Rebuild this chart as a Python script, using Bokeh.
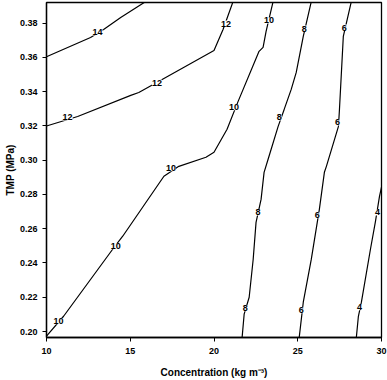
from bokeh.plotting import figure
from bokeh.models import ColumnDataSource, LabelSet, FixedTicker, Range1d, PrintfTickFormatter
from bokeh.core.properties import value
from bokeh.embed import file_html
from bokeh.resources import INLINE

# contour lines (Concentration kg m^-3, TMP MPa)
c14_x = [10.0, 12.63, 13.41, 14.43, 15.93]
c14_y = [0.3603, 0.3716, 0.3762, 0.3833, 0.3926]

c12_x = [10.0, 11.86, 15.03, 15.51, 17.01, 20.0, 20.54, 21.14]
c12_y = [0.3199, 0.3255, 0.3378, 0.3395, 0.3477, 0.3640, 0.3762, 0.3926]

c10_x = [10.0, 11.02, 13.95, 14.55, 17.01, 17.90, 19.52, 20.0, 20.78, 21.44, 22.69, 22.93, 23.11, 23.53]
c10_y = [0.1973, 0.2089, 0.2480, 0.2556, 0.2906, 0.2964, 0.3017, 0.3046, 0.3180, 0.3343, 0.3635, 0.3658, 0.3751, 0.3926]

c8_x = [25.81, 25.33, 24.91, 24.61, 24.19, 23.83, 23.23, 22.99, 22.81, 22.51, 22.34, 22.10, 21.80, 21.68]
c8_y = [0.3926, 0.3722, 0.3512, 0.3413, 0.3296, 0.3197, 0.3005, 0.2929, 0.2771, 0.2637, 0.2422, 0.2200, 0.2101, 0.1967]

c6_x = [28.20, 27.72, 27.49, 27.43, 26.71, 26.59, 26.29, 25.81, 25.33, 25.09]
c6_y = [0.3926, 0.3722, 0.3296, 0.3197, 0.2964, 0.2929, 0.2713, 0.2422, 0.2171, 0.1967]

c4_x = [30.0, 29.88, 29.64, 29.34, 28.80, 28.62, 28.50]
c4_y = [0.2842, 0.2789, 0.2643, 0.2480, 0.2171, 0.2089, 0.1967]

# contour labels
lab_text = ["14", "12", "12", "12", "10", "10", "10", "10", "10",
            "8", "8", "8", "8", "6", "6", "6", "6", "4", "4"]
lab_x = [13.05, 11.26, 16.59, 20.72, 10.72, 14.13, 17.43, 21.20, 23.29,
         25.39, 23.89, 22.63, 21.86, 27.78, 27.37, 26.17, 25.21, 29.76, 28.68]
lab_y = [0.3745, 0.3249, 0.3453, 0.3797, 0.2060, 0.2497, 0.2952, 0.3308, 0.3815,
         0.3768, 0.3249, 0.2695, 0.2136, 0.3774, 0.3220, 0.2678, 0.2124, 0.2695, 0.2142]

x_ticks = [10, 15, 20, 25, 30]
y_ticks = [0.20, 0.22, 0.24, 0.26, 0.28, 0.30, 0.32, 0.34, 0.36, 0.38]

FONT = "Liberation Sans"

p = figure(width=387, height=380, output_backend="svg", toolbar_location=None,
           x_range=Range1d(10, 30), y_range=Range1d(0.1965, 0.392),
           min_border_left=46, min_border_right=6, min_border_top=2, min_border_bottom=42)

p.xgrid.visible = False
p.ygrid.visible = False
p.outline_line_color = "black"
p.outline_line_width = 1.3
p.background_fill_color = "white"
p.border_fill_color = "white"

for xs, ys in [(c14_x, c14_y), (c12_x, c12_y), (c10_x, c10_y), (c8_x, c8_y), (c6_x, c6_y), (c4_x, c4_y)]:
    p.line(xs, ys, line_color="black", line_width=1.2)

src = ColumnDataSource(dict(x=lab_x, y=lab_y, t=lab_text))
labels = LabelSet(x="x", y="y", text="t", source=src,
                  text_align=value("center"), text_baseline=value("middle"),
                  text_font=value(FONT), text_font_size=value("9px"),
                  text_font_style=value("bold"), text_color=value("black"),
                  background_fill_color=value("white"))
p.add_layout(labels)

for ax in (p.xaxis[0], p.yaxis[0]):
    ax.axis_line_color = "black"
    ax.axis_line_width = 1.3
    ax.major_tick_line_color = "black"
    ax.major_tick_out = 4
    ax.major_tick_in = 0
    ax.minor_tick_line_color = None
    ax.major_label_text_font = FONT
    ax.major_label_text_font_size = "9px"
    ax.major_label_text_font_style = "bold"
    ax.major_label_text_color = "black"
    ax.axis_label_text_font = FONT
    ax.axis_label_text_font_size = "10px"
    ax.axis_label_text_font_style = "bold"
    ax.axis_label_text_color = "black"

p.xaxis.ticker = FixedTicker(ticks=x_ticks)
p.yaxis.ticker = FixedTicker(ticks=y_ticks)
p.yaxis.formatter = PrintfTickFormatter(format="%.2f")
p.xaxis.axis_label = "Concentration (kg m\u207b\u00b3)"
p.yaxis.axis_label = "TMP (MPa)"
p.xaxis.major_label_standoff = 6
p.yaxis.major_label_standoff = 5
p.xaxis.axis_label_standoff = 10
p.yaxis.axis_label_standoff = 1

open("out.html", "w").write(file_html(p, INLINE))
